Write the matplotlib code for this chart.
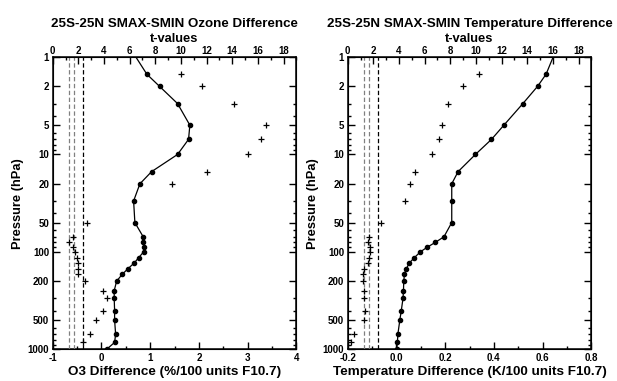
import matplotlib
matplotlib.use("Agg")
import matplotlib.pyplot as plt
import numpy as np
from matplotlib.ticker import FixedLocator, MultipleLocator, NullFormatter, FixedFormatter

plt.rcParams['font.family'] = ['Liberation Sans', 'DejaVu Sans']
plt.rcParams['font.weight'] = 'bold'

pressure = [1, 1.5, 2, 3, 5, 7, 10, 15, 20, 30, 50, 70, 80, 90, 100, 115, 130,
            150, 170, 200, 250, 300, 400, 500, 700, 850, 1000]

o3_diff = [0.707, 0.932, 1.193, 1.561, 1.814, 1.787, 1.561, 1.029, 0.789, 0.660,
           0.686, 0.857, 0.857, 0.877, 0.865, 0.762, 0.672, 0.537, 0.426, 0.311,
           0.262, 0.262, 0.270, 0.270, 0.291, 0.270, 0.107]
o3_t = [np.nan, 9.97, 11.62, 14.16, 16.6, 16.24, 15.2, 12.04, 9.29, np.nan,
        2.69, 1.60, 1.29, 1.60, 1.73, 1.86, 1.94, 1.94, 1.94, 2.51,
        3.93, 4.27, 3.93, 3.34, 2.90, 2.38, np.nan]

t_diff = [0.643, 0.614, 0.579, 0.519, 0.441, 0.390, 0.324, 0.253, 0.227, 0.227,
          0.227, 0.195, 0.159, 0.125, 0.098, 0.073, 0.053, 0.040, 0.033, 0.030,
          0.029, 0.027, 0.020, 0.014, 0.006, 0.004, 0.001]
t_t = [np.nan, 10.23, 9.0, 7.81, 7.38, 7.15, 6.56, 5.25, 4.86, 4.50,
       2.60, 1.69, 1.61, 1.74, 1.74, 1.69, 1.61, 1.30, 1.17, 1.17,
       1.30, 1.30, 1.37, 1.30, 0.52, 0.26, np.nan]

sig_levels = [1.282, 1.645, 2.326]
sig_colors = ['#808080', '#808080', 'black']

p_ticks = [1, 2, 5, 10, 20, 50, 100, 200, 500, 1000]
p_labels = ['1', '2', '5', '10', '20', '50', '100', '200', '500', '1000']

panels = [
    dict(title='25S-25N SMAX-SMIN Ozone Difference', x=o3_diff, t=o3_t,
         xlim=(-1, 4), xmaj=1, xmin=0.5, fmt='{:g}',
         xlabel='O3 Difference (%/100 units F10.7)', left=0.0854),
    dict(title='25S-25N SMAX-SMIN Temperature Difference', x=t_diff, t=t_t,
         xlim=(-0.2, 0.8), xmaj=0.2, xmin=0.1, fmt='{:.1f}',
         xlabel='Temperature Difference (K/100 units F10.7)', left=0.5635),
]

fig = plt.figure(figsize=(6.17, 3.81), dpi=100)

minor_p = []
for dec in [1, 10, 100]:
    for m in range(2, 10):
        minor_p.append(dec * m)
minor_p = [v for v in minor_p if v not in p_ticks]

for pan in panels:
    ax = fig.add_axes([pan['left'], 0.0832, 0.3950, 0.767])
    ax.set_yscale('log')
    ax.set_ylim(1000, 1)
    ax.set_xlim(*pan['xlim'])
    ax.plot(pan['x'], pressure, color='black', lw=0.9, marker='o', ms=3.0,
            markevery=list(range(1, len(pressure))), zorder=3)
    ax.yaxis.set_major_locator(FixedLocator(p_ticks))
    ax.yaxis.set_major_formatter(FixedFormatter(p_labels))
    ax.yaxis.set_minor_locator(FixedLocator(minor_p))
    ax.yaxis.set_minor_formatter(NullFormatter())
    ax.xaxis.set_major_locator(MultipleLocator(pan['xmaj']))
    ax.xaxis.set_minor_locator(MultipleLocator(pan['xmin']))
    fmt = pan['fmt']
    ax.xaxis.set_major_formatter(matplotlib.ticker.FuncFormatter(
        lambda v, pos, fmt=fmt: fmt.format(0.0 if abs(v) < 1e-9 else v)))
    ax.tick_params(which='both', direction='in', right=True, top=False,
                   labelsize=7, width=1)
    ax.tick_params(which='major', length=5)
    ax.tick_params(axis='x', which='major', pad=3)
    ax.tick_params(axis='y', which='major', pad=2.5)
    ax.tick_params(which='minor', length=2.5)
    for lab in ax.get_xticklabels() + ax.get_yticklabels():
        lab.set_fontweight('bold')
    ax.set_xlabel(pan['xlabel'], fontsize=9.7, fontweight='bold', labelpad=2)
    ax.set_ylabel('Pressure (hPa)', fontsize=9.3, fontweight='bold', labelpad=3)
    for s in ax.spines.values():
        s.set_linewidth(1.1)

    ax2 = ax.twiny()
    ax2.set_xlim(0, 19)
    ax2.plot(pan['t'], pressure, linestyle='none', marker='+', color='black',
             ms=4, mew=0.9, zorder=3)
    for lev, col in zip(sig_levels, sig_colors):
        ax2.axvline(lev, color=col, lw=0.9, ls=(0, (3.5, 2)))
    ax2.xaxis.set_major_locator(MultipleLocator(2))
    ax2.xaxis.set_minor_locator(MultipleLocator(1))
    ax2.tick_params(which='both', direction='in', labelsize=7, width=1)
    ax2.tick_params(which='major', length=5, pad=1)
    ax2.tick_params(which='minor', length=2.5)
    for lab in ax2.get_xticklabels():
        lab.set_fontweight('bold')
    ax2.set_xlabel('t-values', fontsize=9.3, fontweight='bold', labelpad=3)
    ax2.set_title(pan['title'], fontsize=9.6, fontweight='bold', pad=4)

fig.savefig('out.png', dpi=100)
